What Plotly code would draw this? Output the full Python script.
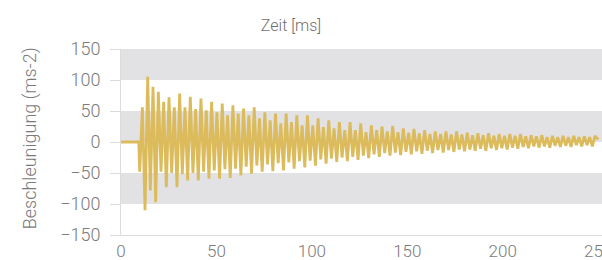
import plotly.graph_objects as go

# ---------------- data ----------------
# flat pre-trigger segment
flat_t = [0.0, 9.3]
flat_v = [0, 0]

# oscillation: alternating local minima / maxima, sampled every half period
first_min_t = 9.8     # ms, time of the first minimum
half_step = 1.395     # ms between successive extrema

minima = [-48, -110, -78, -97, -48, -73, -50, -73, -52, -62,
          -50, -62, -48, -59, -46, -59, -44, -58, -43, -54,
          -40, -51, -38, -48, -36, -47, -34, -46, -33, -43,
          -31, -41, -30, -38, -28, -35, -27, -32, -25, -31,
          -24, -29, -22, -26, -20, -24, -18, -22, -17, -21,
          -16, -20, -15, -19, -14, -18, -13, -17, -13, -16,
          -12, -15, -12, -14, -11, -14, -10, -13, -10, -12,
          -9, -11, -8, -10, -7, -9, -7, -9, -6, -8,
          -6, -8, -5, -7, -5, -7]

maxima = [56, 105, 89, 81, 65, 72, 56, 78, 56, 73,
          53, 70, 51, 65, 48, 62, 43, 59, 46, 54,
          43, 56, 38, 48, 35, 46, 30, 46, 32, 43,
          27, 43, 27, 38, 24, 35, 22, 32, 19, 32,
          19, 30, 16, 27, 19, 25, 17, 26, 16, 22,
          15, 21, 14, 19, 13, 17, 13, 17, 12, 17,
          12, 15, 11, 14, 11, 14, 10, 13, 10, 13,
          10, 13, 9, 11, 9, 11, 8, 10, 8, 10,
          8, 10, 8, 9, 8, 10]

end_t = [250.0]
end_v = [4]

x_ticks = [0, 50, 100, 150, 200, 250]
y_ticks = [-150, -100, -50, 0, 50, 100, 150]
band_ranges = [(100, 150), (0, 50), (-100, -50)]

# ---------------- build the trace ----------------
times = list(flat_t)
values = list(flat_v)
for i, (lo, hi) in enumerate(zip(minima, maxima)):
    times.append(first_min_t + 2 * i * half_step)
    values.append(lo)
    times.append(first_min_t + (2 * i + 1) * half_step)
    values.append(hi)
times += end_t
values += end_v

LINE_COLOR = "#dcbb5c"
TEXT_COLOR = "#7a7a7a"
AXIS_COLOR = "#dcdcdc"
BAND_COLOR = "#e2e2e5"
FONT = "Roboto"

fig = go.Figure()
fig.add_trace(go.Scatter(
    x=times, y=values, mode="lines",
    line=dict(color=LINE_COLOR, width=2.8),
    hoverinfo="skip", showlegend=False,
))

for lo, hi in band_ranges:
    fig.add_shape(type="rect", xref="paper", yref="y",
                  x0=0, x1=1, y0=lo, y1=hi,
                  fillcolor=BAND_COLOR, line=dict(width=0), layer="below")

fig.update_layout(
    width=602, height=260,
    margin=dict(l=121, r=0, t=49, b=25, autoexpand=False),
    paper_bgcolor="white", plot_bgcolor="white",
    font=dict(family=FONT, color=TEXT_COLOR, weight=300),
    title=dict(text="Zeit [ms]", xref="container", yref="container",
               x=291 / 602, y=1 - 25 / 260, xanchor="center", yanchor="middle",
               font=dict(family=FONT, size=16, color="#6e6e6e", weight=300)),
    xaxis=dict(range=[0, 252], tickvals=x_ticks, showgrid=False, zeroline=False,
               showline=True, linecolor=AXIS_COLOR, linewidth=1, automargin=False,
               ticks="", ticklabeloverflow="allow",
               tickfont=dict(size=17, family=FONT, color=TEXT_COLOR, weight=300),
               ticklabelstandoff=1),
    yaxis=dict(range=[-150, 150], tickvals=y_ticks, showgrid=False, zeroline=False,
               showline=True, linecolor=AXIS_COLOR, linewidth=1, automargin=False,
               ticks="outside", ticklen=10, tickcolor=AXIS_COLOR,
               tickfont=dict(size=18, family=FONT, color=TEXT_COLOR, weight=300),
               ticklabelstandoff=6),
    annotations=[dict(text="Beschleunigung (ms-2)", xref="paper", yref="paper",
                      x=(30 - 121) / 481, y=0.52, textangle=-90, showarrow=False,
                      xanchor="center", yanchor="middle",
                      font=dict(family=FONT, size=18, color=TEXT_COLOR, weight=300))],
)

fig.write_html("out.html", config={"displayModeBar": False},
               post_script="document.body.style.margin='0';document.body.style.overflow='hidden';")
